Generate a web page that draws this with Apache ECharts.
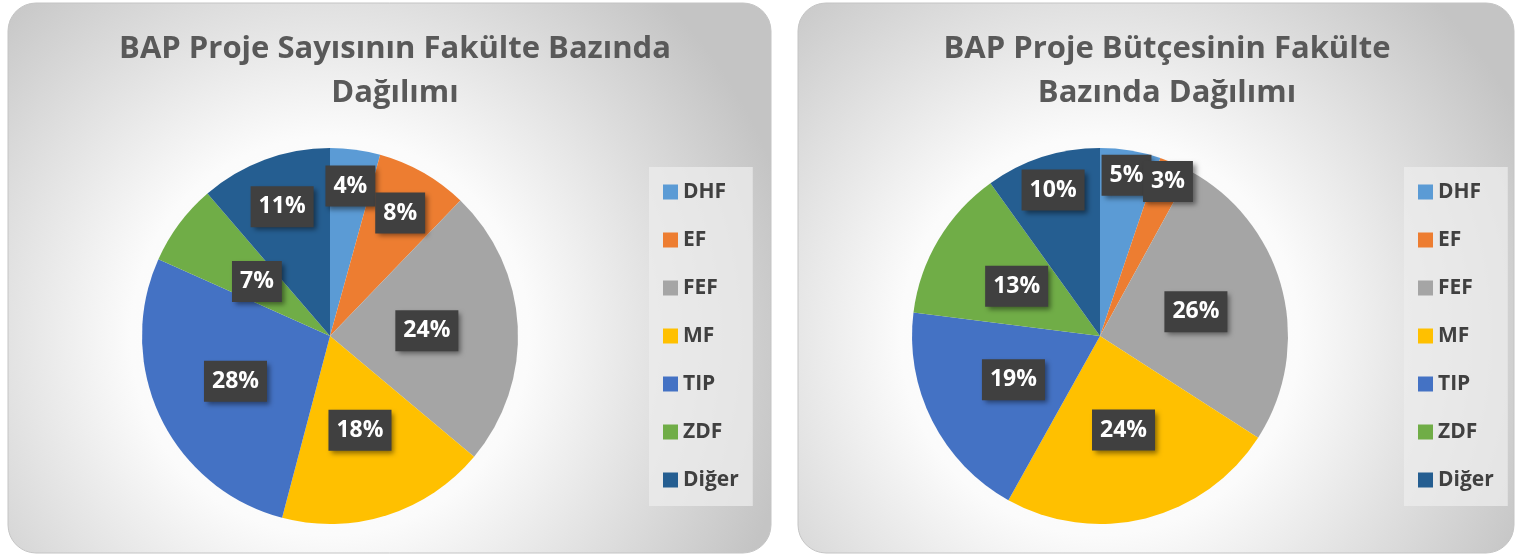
<!DOCTYPE html>
<html>
<head>
<meta charset="utf-8">
<script src="https://cdn.jsdelivr.net/npm/echarts@6/dist/echarts.min.js"></script>
<style>
html,body{margin:0;padding:0;background:#ffffff;}
#chart{width:1516px;height:554px;}
</style>
</head>
<body>
<div id="chart"></div>
<script>
// ---- data ----
const categories = ['DHF', 'EF', 'FEF', 'MF', 'TIP', 'ZDF', 'Diğer'];
const projeSayisi = [4.3, 7.9, 23.9, 18.0, 27.6, 7.0, 11.3];   // % share of project count
const projeButcesi = [5.2, 2.8, 26.1, 24.0, 18.9, 13.1, 9.9];  // % share of project budget
const titleSayisi = 'BAP Proje Sayısının Fakülte Bazında\nDağılımı';
const titleButcesi = 'BAP Proje Bütçesinin Fakülte\nBazında Dağılımı';

// ---- styling ----
const colors = ['#5B9BD5', '#ED7D31', '#A5A5A5', '#FFC000', '#4472C4', '#70AD47', '#255E91'];
const FONT = '"Open Sans", Lato, sans-serif';
const PIE_R = 188;
const pies = [
  { cx: 330, cy: 336, factors: [0.78, 0.73, 0.5, 0.51, 0.54, 0.47, 0.71] },
  { cx: 1100, cy: 336, factors: [0.84, 0.87, 0.51, 0.5, 0.5, 0.5, 0.79] }
];

const chart = echarts.init(document.getElementById('chart'), null, { renderer: 'canvas' });

function panel(x, w, gx) {
  return {
    type: 'rect',
    silent: true,
    z: -10,
    shape: { x: x, y: 3, width: w, height: 550, r: 28 },
    style: {
      fill: {
        type: 'radial', x: gx, y: 0.605, r: 0.86,
        colorStops: [
          { offset: 0, color: '#ffffff' },
          { offset: 0.42, color: '#fbfbfb' },
          { offset: 1, color: '#c4c4c4' }
        ]
      },
      stroke: '#c4c4c4',
      lineWidth: 1
    }
  };
}

function makeSeries(values, p) {
  return {
    type: 'pie',
    center: [p.cx, p.cy],
    radius: PIE_R,
    startAngle: 90,
    clockwise: true,
    percentPrecision: 0,
    avoidLabelOverlap: false,
    itemStyle: { borderWidth: 0 },
    label: {
      show: true,
      position: 'inside',
      formatter: '{d}%',
      color: '#ffffff',
      fontFamily: FONT,
      fontWeight: 'bold',
      fontSize: 23,
      lineHeight: 24,
      backgroundColor: '#404040',
      padding: [9, 8, 8, 8],
      shadowColor: 'rgba(0,0,0,0.45)',
      shadowBlur: 5,
      shadowOffsetX: 3,
      shadowOffsetY: 3
    },
    labelLine: { show: false },
    labelLayout: function (params) {
      const f = p.factors[params.dataIndex];
      const r = params.labelRect;
      const lx = r.x + r.width / 2;
      const ly = r.y + r.height / 2;
      return { x: p.cx + (lx - p.cx) * f / 0.5, y: p.cy + (ly - p.cy) * f / 0.5 };
    },
    emphasis: { disabled: true },
    data: categories.map((c, i) => ({ name: c, value: values[i], itemStyle: { color: colors[i] } }))
  };
}

function legend(left) {
  return {
    orient: 'vertical',
    left: left,
    top: 167,
    data: categories,
    icon: 'rect',
    itemWidth: 15,
    itemHeight: 15,
    itemGap: 24,
    selectedMode: false,
    backgroundColor: 'rgba(236,236,236,0.75)',
    padding: [13, 14, 14, 14],
    textStyle: { fontFamily: FONT, fontWeight: 'bold', fontSize: 21, color: '#404040', lineHeight: 24 }
  };
}

const titleStyle = { fontFamily: FONT, fontWeight: 'bold', fontSize: 31, color: '#595959', lineHeight: 44 };

chart.setOption({
  animation: false,
  color: colors,
  title: [
    { text: titleSayisi, left: 390, top: 22, textAlign: 'center', textStyle: titleStyle },
    { text: titleButcesi, left: 1162, top: 22, textAlign: 'center', textStyle: titleStyle }
  ],
  legend: [legend(649), legend(1404)],
  graphic: [panel(8, 763, (330 - 8) / 763), panel(798, 716, (1100 - 798) / 716)],
  series: [makeSeries(projeSayisi, pies[0]), makeSeries(projeButcesi, pies[1])]
});
</script>
</body>
</html>
